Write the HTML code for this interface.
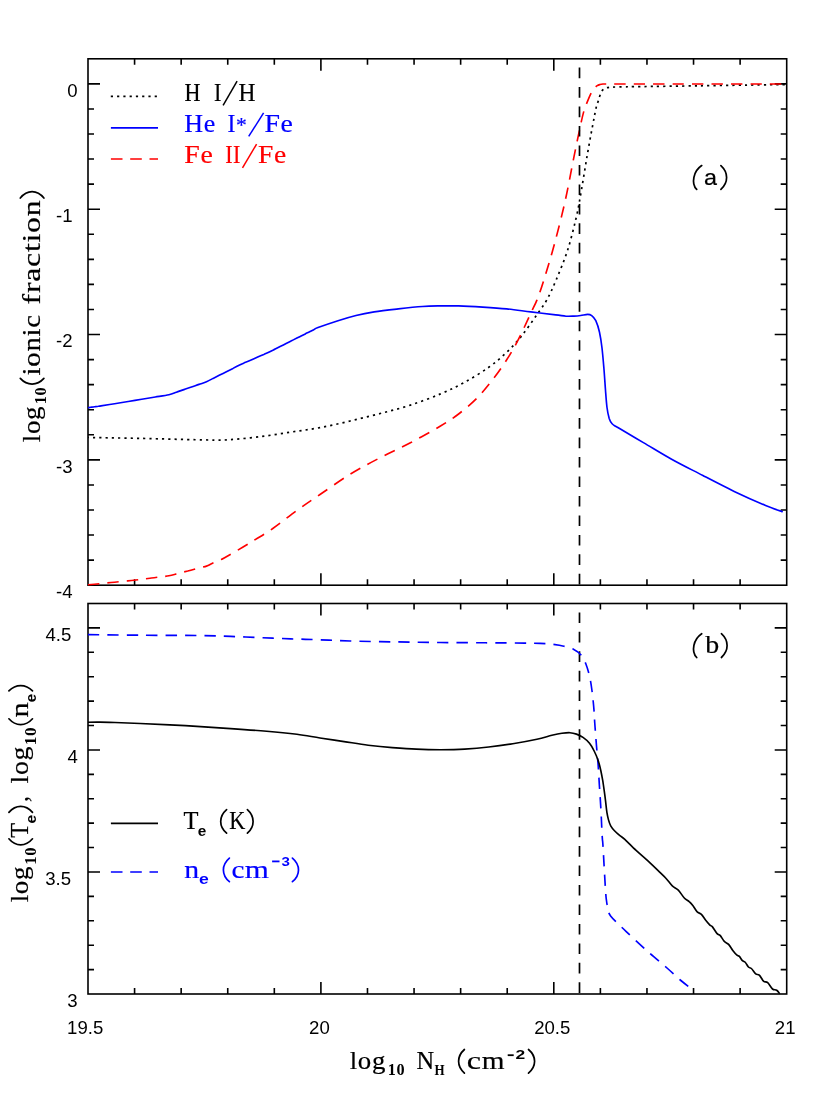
<!DOCTYPE html>
<html><head><meta charset="utf-8"><title>chart</title>
<style>html,body{margin:0;padding:0;background:#fff}svg{display:block;will-change:transform}.s{font-family:"Liberation Sans",sans-serif;font-size:18.6px;fill:#000}.r{font-family:"Liberation Serif",serif;font-size:25.5px}</style></head><body>
<svg width="830" height="1106" viewBox="0 0 830 1106">
<rect width="830" height="1106" fill="#fff"/>
<defs><clipPath id="c1"><rect x="87.0" y="57.8" width="700.7" height="528.4"/></clipPath>
<clipPath id="c2"><rect x="87.0" y="602.5" width="700.7" height="392.5"/></clipPath></defs>
<rect x="88.00" y="58.80" width="698.70" height="526.40" fill="none" stroke="#000" stroke-width="1.60"/>
<rect x="88.00" y="603.50" width="698.70" height="390.50" fill="none" stroke="#000" stroke-width="1.60"/>
<path d="M134.58 58.80v6.0M134.58 585.20v-6.0M134.58 603.50v6.0M134.58 994.00v-6.0M181.16 58.80v6.0M181.16 585.20v-6.0M181.16 603.50v6.0M181.16 994.00v-6.0M227.74 58.80v6.0M227.74 585.20v-6.0M227.74 603.50v6.0M227.74 994.00v-6.0M274.32 58.80v6.0M274.32 585.20v-6.0M274.32 603.50v6.0M274.32 994.00v-6.0M320.90 58.80v12.0M320.90 585.20v-12.0M320.90 603.50v12.0M320.90 994.00v-12.0M367.48 58.80v6.0M367.48 585.20v-6.0M367.48 603.50v6.0M367.48 994.00v-6.0M414.06 58.80v6.0M414.06 585.20v-6.0M414.06 603.50v6.0M414.06 994.00v-6.0M460.64 58.80v6.0M460.64 585.20v-6.0M460.64 603.50v6.0M460.64 994.00v-6.0M507.22 58.80v6.0M507.22 585.20v-6.0M507.22 603.50v6.0M507.22 994.00v-6.0M553.80 58.80v12.0M553.80 585.20v-12.0M553.80 603.50v12.0M553.80 994.00v-12.0M600.38 58.80v6.0M600.38 585.20v-6.0M600.38 603.50v6.0M600.38 994.00v-6.0M646.96 58.80v6.0M646.96 585.20v-6.0M646.96 603.50v6.0M646.96 994.00v-6.0M693.54 58.80v6.0M693.54 585.20v-6.0M693.54 603.50v6.0M693.54 994.00v-6.0M740.12 58.80v6.0M740.12 585.20v-6.0M740.12 603.50v6.0M740.12 994.00v-6.0M88.00 560.13h6.0M786.70 560.13h-6.0M88.00 535.07h6.0M786.70 535.07h-6.0M88.00 510.00h6.0M786.70 510.00h-6.0M88.00 484.93h6.0M786.70 484.93h-6.0M88.00 459.87h12.0M786.70 459.87h-12.0M88.00 434.80h6.0M786.70 434.80h-6.0M88.00 409.73h6.0M786.70 409.73h-6.0M88.00 384.67h6.0M786.70 384.67h-6.0M88.00 359.60h6.0M786.70 359.60h-6.0M88.00 334.53h12.0M786.70 334.53h-12.0M88.00 309.47h6.0M786.70 309.47h-6.0M88.00 284.40h6.0M786.70 284.40h-6.0M88.00 259.33h6.0M786.70 259.33h-6.0M88.00 234.27h6.0M786.70 234.27h-6.0M88.00 209.20h12.0M786.70 209.20h-12.0M88.00 184.13h6.0M786.70 184.13h-6.0M88.00 159.07h6.0M786.70 159.07h-6.0M88.00 134.00h6.0M786.70 134.00h-6.0M88.00 108.93h6.0M786.70 108.93h-6.0M88.00 83.87h12.0M786.70 83.87h-12.0M88.00 969.59h6.0M786.70 969.59h-6.0M88.00 945.19h6.0M786.70 945.19h-6.0M88.00 920.78h6.0M786.70 920.78h-6.0M88.00 896.38h6.0M786.70 896.38h-6.0M88.00 871.97h12.0M786.70 871.97h-12.0M88.00 847.56h6.0M786.70 847.56h-6.0M88.00 823.16h6.0M786.70 823.16h-6.0M88.00 798.75h6.0M786.70 798.75h-6.0M88.00 774.34h6.0M786.70 774.34h-6.0M88.00 749.94h12.0M786.70 749.94h-12.0M88.00 725.53h6.0M786.70 725.53h-6.0M88.00 701.12h6.0M786.70 701.12h-6.0M88.00 676.72h6.0M786.70 676.72h-6.0M88.00 652.31h6.0M786.70 652.31h-6.0M88.00 627.91h12.0M786.70 627.91h-12.0" stroke="#000" stroke-width="1.60" fill="none"/>
<g clip-path="url(#c1)" fill="none" stroke-width="1.65">
<path d="M88.0 437.5C96.7 437.6 119.8 438.0 140.0 438.4C160.2 438.8 194.4 439.8 209.5 440.0C224.6 440.2 222.1 440.2 230.6 439.6C239.1 439.0 250.7 437.9 260.7 436.6C270.7 435.4 280.9 433.6 290.8 432.1C300.7 430.6 310.1 429.5 320.0 427.6C329.9 425.8 340.1 423.4 350.1 421.0C360.1 418.6 370.1 416.1 380.2 413.5C390.2 410.9 400.3 408.4 410.4 405.1C420.4 401.8 431.5 397.7 440.5 393.9C449.5 390.1 456.6 386.7 464.6 382.3C472.6 377.9 481.7 372.3 488.7 367.3C495.7 362.3 501.2 357.6 506.7 352.3C512.2 347.0 516.8 342.0 521.8 335.7C526.8 329.4 532.8 320.5 536.9 314.6C541.0 308.7 543.5 306.0 546.7 300.1C550.0 294.2 553.0 287.5 556.4 279.3C559.8 271.1 564.0 261.2 567.3 251.1C570.6 241.0 573.6 228.6 576.0 218.5C578.4 208.4 579.6 200.4 581.4 190.3C583.2 180.2 585.0 168.2 586.8 157.7C588.6 147.2 590.7 135.7 592.3 127.3C593.9 118.9 595.2 111.7 596.2 107.4C597.2 103.1 597.5 103.3 598.1 101.5C598.7 99.7 599.0 98.2 599.6 96.5C600.2 94.8 601.0 92.7 601.7 91.4C602.4 90.1 603.1 89.5 604.0 88.9C604.9 88.3 605.4 88.0 606.8 87.7C608.2 87.4 609.5 87.2 612.5 87.1C615.5 86.9 620.4 86.9 625.0 86.8C629.6 86.7 627.5 86.8 640.0 86.6C652.5 86.4 680.0 86.1 700.0 85.8C720.0 85.5 745.5 85.1 760.0 84.9C774.5 84.7 782.2 84.6 786.7 84.5" stroke="#000" stroke-width="1.7" stroke-dasharray="2.2 4.07" stroke-dashoffset="1.2"/>
<path d="M88.0 584.8C89.9 584.6 95.7 584.0 99.5 583.7C103.3 583.3 107.2 582.9 111.0 582.5C114.8 582.2 118.7 581.8 122.5 581.4C126.3 581.0 130.6 580.7 134.0 580.3C137.4 579.9 139.8 579.5 142.7 579.2C145.6 578.8 148.5 578.4 151.4 578.0C154.4 577.7 157.3 577.3 160.2 576.9C163.1 576.5 165.9 576.4 168.9 575.8C171.9 575.2 175.2 574.2 178.3 573.4C181.4 572.6 184.6 571.8 187.7 571.0C190.8 570.1 194.0 569.3 197.1 568.5C200.2 567.7 204.2 566.9 206.5 566.1C208.8 565.3 209.5 564.7 211.0 564.0C212.5 563.3 214.0 562.6 215.6 561.9C217.1 561.2 218.6 560.5 220.1 559.8C221.6 559.1 219.8 560.4 224.6 557.7C229.4 555.0 240.7 548.5 248.7 543.6C256.7 538.7 264.8 534.0 272.8 528.5C280.8 523.0 289.0 516.1 296.9 510.4C304.8 504.7 311.1 500.5 320.0 494.5C328.9 488.5 340.1 480.4 350.1 474.3C360.1 468.2 370.1 462.9 380.2 457.7C390.2 452.4 400.3 448.1 410.4 442.8C420.4 437.5 432.5 430.8 440.5 426.0C448.5 421.2 452.6 418.6 458.6 414.0C464.6 409.4 471.1 404.0 476.6 398.5C482.1 393.0 486.7 387.3 491.7 380.9C496.7 374.4 502.2 366.8 506.7 359.8C511.2 352.8 514.8 346.5 518.8 338.7C522.8 330.9 527.8 319.5 530.8 313.1C533.8 306.7 534.8 305.4 536.9 300.1C539.0 294.8 540.5 290.8 543.4 281.5C546.3 272.2 550.7 257.9 554.3 244.5C557.9 231.1 561.9 215.6 565.1 201.1C568.4 186.6 571.4 169.3 573.8 157.7C576.1 146.1 577.6 139.2 579.2 131.6C580.8 124.0 582.2 117.1 583.6 112.1C585.0 107.1 586.1 104.8 587.5 101.4C588.9 98.0 590.6 94.1 591.8 91.9C593.0 89.7 593.6 89.0 594.5 88.0C595.4 87.0 596.4 86.2 597.3 85.6C598.2 85.0 599.0 84.8 600.0 84.5C601.0 84.2 601.3 84.1 603.0 84.0C604.7 84.0 600.5 84.0 610.0 84.0C619.5 84.0 630.5 84.0 660.0 84.0C689.5 84.0 765.6 84.0 786.7 84.0" stroke="#f00" stroke-dasharray="11.38 8.05"/>
<path d="M88.0 407.7C88.4 407.6 89.7 407.5 90.6 407.3C91.5 407.2 92.3 407.1 93.2 407.0C94.1 406.9 94.9 406.7 95.8 406.6C96.7 406.5 97.5 406.4 98.4 406.3C99.3 406.1 98.3 406.3 101.0 405.9C103.7 405.5 110.1 404.4 114.6 403.7C119.1 402.9 123.6 402.2 128.2 401.5C132.7 400.7 137.2 400.0 141.7 399.2C146.3 398.5 150.8 397.8 155.3 397.0C159.8 396.3 165.4 395.6 168.9 394.8C172.4 394.0 173.9 393.1 176.4 392.2C178.9 391.3 181.4 390.5 183.9 389.6C186.4 388.7 189.0 387.9 191.5 387.0C194.0 386.1 196.5 385.3 199.0 384.4C201.5 383.5 204.1 382.8 206.5 381.8C208.9 380.8 210.9 379.6 213.1 378.4C215.3 377.3 217.5 376.2 219.7 375.1C221.9 374.0 224.2 372.8 226.4 371.7C228.6 370.6 230.8 369.5 233.0 368.4C235.2 367.2 237.5 366.0 239.6 365.0C241.7 364.0 243.6 363.2 245.6 362.3C247.7 361.5 249.7 360.6 251.7 359.7C253.7 358.8 255.7 357.9 257.7 357.0C259.7 356.1 261.7 355.2 263.8 354.4C265.8 353.5 267.9 352.6 269.8 351.7C271.7 350.8 273.4 349.9 275.2 349.0C277.0 348.1 278.8 347.2 280.6 346.3C282.4 345.4 284.3 344.4 286.1 343.5C287.9 342.6 289.7 341.7 291.5 340.8C293.3 339.9 295.3 338.9 296.9 338.1C298.5 337.3 299.7 336.7 301.1 336.0C302.5 335.3 303.9 334.6 305.3 333.9C306.7 333.2 308.2 332.5 309.6 331.8C311.0 331.1 312.4 330.4 313.8 329.7C315.2 329.0 314.0 329.1 318.0 327.6C322.0 326.1 331.7 322.7 338.0 320.7C344.3 318.7 350.0 317.0 356.0 315.5C362.0 314.0 367.1 313.0 374.2 311.9C381.2 310.8 390.3 309.8 398.3 308.9C406.3 308.0 415.4 307.0 422.4 306.5C429.4 306.0 434.5 306.0 440.5 305.9C446.5 305.8 451.6 305.7 458.6 305.9C465.6 306.1 474.7 306.6 482.7 307.1C490.7 307.6 498.7 308.1 506.7 308.9C514.7 309.7 522.6 310.9 530.8 311.9C539.0 312.9 549.8 314.2 555.7 314.9C561.6 315.6 563.0 316.0 566.0 316.2C569.0 316.4 571.5 316.2 574.0 316.1C576.5 316.0 578.4 315.8 580.7 315.5C583.0 315.2 585.8 314.4 587.6 314.4C589.4 314.4 590.3 314.6 591.7 315.7C593.1 316.8 594.5 317.9 595.8 320.7C597.1 323.5 598.5 327.8 599.5 332.3C600.5 336.9 601.3 342.0 602.0 348.0C602.7 354.0 603.3 361.2 603.9 368.3C604.5 375.4 605.0 383.8 605.5 390.3C606.0 396.8 606.4 402.8 607.0 407.5C607.6 412.2 608.4 415.7 609.2 418.4C610.1 421.1 610.6 422.2 612.1 423.8C613.6 425.4 613.1 424.7 618.3 427.8C623.5 430.9 634.5 437.4 643.4 442.6C652.3 447.8 661.7 453.7 671.6 459.2C681.5 464.7 692.5 470.1 702.9 475.5C713.3 480.9 723.8 486.4 734.2 491.4C744.7 496.4 757.5 502.1 765.6 505.5C773.7 508.9 779.9 510.8 782.8 511.8" stroke="#00f"/>
</g>
<path d="M579.5 67.6V585.2" stroke="#000" stroke-width="1.7" stroke-dasharray="10.6 8.87" fill="none"/>
<path d="M579.5 612.4V994.0" stroke="#000" stroke-width="1.7" stroke-dasharray="10.6 8.87" fill="none"/>
<g clip-path="url(#c2)" fill="none" stroke-width="1.65">
<path d="M88.0 634.6C96.7 634.7 121.4 635.1 140.2 635.2C158.9 635.4 185.4 635.3 200.5 635.5C215.6 635.7 220.6 636.0 230.6 636.4C240.6 636.8 250.7 637.3 260.7 637.7C270.7 638.1 280.9 638.5 290.8 638.9C300.7 639.2 310.1 639.4 320.0 639.8C329.9 640.1 337.6 640.6 350.1 641.0C362.7 641.4 380.2 641.6 395.3 641.9C410.4 642.1 425.4 642.4 440.5 642.5C455.6 642.6 471.6 642.7 485.7 642.8C499.8 642.9 515.8 643.0 524.8 643.1C533.8 643.2 535.5 643.2 540.0 643.4C544.5 643.6 547.9 643.7 551.9 644.2C555.9 644.7 560.2 645.3 563.9 646.2C567.5 647.1 571.0 648.0 573.8 649.4C576.6 650.8 578.8 652.3 580.8 654.7C582.8 657.1 584.4 660.2 585.8 663.7C587.2 667.2 588.3 671.0 589.4 675.6C590.5 680.2 591.3 685.5 592.1 691.5C592.9 697.5 593.7 706.3 594.1 711.4C594.5 716.5 594.3 716.2 594.7 722.2C595.1 728.2 596.0 739.9 596.6 747.1C597.2 754.3 597.7 758.9 598.2 765.6C598.7 772.3 599.0 780.1 599.5 787.3C600.0 794.5 600.5 802.1 600.9 809.0C601.3 815.9 601.5 823.4 601.8 828.5C602.0 833.6 602.2 836.5 602.4 839.4C602.6 842.3 602.5 838.0 603.0 846.1C603.5 854.2 604.8 879.3 605.4 888.3C606.0 897.3 606.0 896.8 606.4 900.0C606.8 903.2 607.1 905.0 607.8 907.6C608.5 910.2 607.5 911.9 610.6 915.9C613.7 919.9 620.5 926.0 626.5 931.8C632.5 937.6 640.0 944.6 646.8 950.6C653.5 956.6 661.2 962.9 667.0 968.0C672.8 973.1 677.3 977.5 681.5 981.0C685.7 984.5 690.2 987.9 692.0 989.3" stroke="#00f" stroke-dasharray="11.3 8.1"/>
<path d="M88.0 722.2C90.0 722.2 95.5 722.1 100.0 722.1C104.5 722.1 108.3 722.3 115.0 722.5C121.7 722.7 128.5 723.0 140.2 723.5C151.9 724.0 170.3 724.8 185.4 725.6C200.5 726.5 217.1 727.7 230.6 728.6C244.1 729.5 255.6 730.3 266.7 731.3C277.8 732.2 288.0 733.2 296.9 734.3C305.8 735.4 312.1 736.8 320.0 738.0C327.9 739.2 336.1 740.4 344.1 741.6C352.1 742.8 360.2 744.2 368.2 745.2C376.2 746.2 384.3 747.0 392.3 747.6C400.3 748.2 408.4 748.8 416.4 749.1C424.4 749.5 432.5 749.7 440.5 749.7C448.5 749.7 456.6 749.6 464.6 749.1C472.6 748.6 480.7 747.9 488.7 747.0C496.7 746.1 504.8 745.0 512.8 743.7C520.8 742.4 530.4 740.6 536.9 739.2C543.4 737.8 547.7 736.3 551.9 735.3C556.1 734.3 558.9 733.7 561.9 733.3C564.9 732.9 567.5 732.6 569.9 732.7C572.3 732.8 574.3 733.3 576.5 734.1C578.7 734.9 580.8 735.9 583.0 737.4C585.2 738.9 587.6 740.9 589.5 743.3C591.4 745.6 592.9 748.5 594.4 751.5C595.9 754.5 597.3 758.0 598.4 761.2C599.5 764.5 600.2 767.7 600.9 771.0C601.6 774.3 602.2 777.5 602.8 780.8C603.3 784.1 603.7 787.2 604.2 790.6C604.7 794.0 605.2 797.8 605.6 801.4C606.0 805.0 606.4 809.2 606.9 812.3C607.4 815.4 607.9 817.6 608.5 819.9C609.1 822.1 609.7 824.0 610.7 825.8C611.7 827.6 613.0 829.1 614.5 830.7C616.0 832.3 618.2 834.2 619.9 835.6C621.6 837.0 622.1 836.9 624.8 839.4C627.5 841.9 632.2 846.8 636.1 850.4C640.0 854.0 644.2 857.5 648.2 861.2C652.2 864.9 657.2 869.8 660.2 872.7C663.2 875.6 664.3 876.5 666.3 878.7C668.3 880.9 670.3 884.0 672.3 885.9C674.3 887.8 676.3 888.1 678.3 890.1C680.3 892.1 682.5 896.1 684.3 898.0C686.1 899.9 687.8 900.3 689.2 901.6C690.7 902.9 691.7 904.1 693.0 905.8C694.3 907.5 695.8 910.5 697.2 911.9C698.6 913.3 700.0 912.9 701.4 914.3C702.8 915.7 704.3 918.5 705.7 920.3C707.1 922.1 708.8 924.0 709.9 925.1C711.0 926.2 711.1 925.2 712.3 926.6C713.5 928.0 715.8 932.1 717.1 933.6C718.4 935.1 718.9 934.1 720.1 935.4C721.3 936.7 722.9 939.9 724.3 941.4C725.7 942.9 727.2 942.9 728.6 944.4C730.0 945.9 731.4 948.6 732.8 950.4C734.2 952.2 735.9 954.2 737.0 955.2C738.1 956.2 738.5 955.5 739.4 956.4C740.3 957.3 741.4 959.7 742.4 960.7C743.4 961.7 744.4 961.5 745.4 962.5C746.4 963.5 747.4 966.0 748.4 967.0C749.4 968.0 750.2 967.4 751.4 968.5C752.6 969.6 754.4 972.8 755.7 973.9C757.0 975.0 758.0 973.9 759.3 975.1C760.6 976.3 762.1 979.8 763.5 981.1C764.9 982.4 766.2 981.4 767.7 982.7C769.2 984.0 771.0 987.8 772.5 989.0C774.0 990.2 775.5 989.4 776.7 990.2C777.9 991.0 779.3 993.2 779.8 993.8" stroke="#000"/>
</g>
<text class="s" x="67.17" y="96.6">0</text>
<text class="s" x="56.07" y="221.9">-1</text>
<text class="s" x="56.07" y="347.2">-2</text>
<text class="s" x="56.07" y="472.6">-3</text>
<text class="s" x="56.07" y="597.9">-4</text>
<text class="s" x="45.47" y="640.6">4.5</text>
<text class="s" x="67.47" y="762.6">4</text>
<text class="s" x="45.19" y="884.7">3.5</text>
<text class="s" x="67.19" y="1006.7">3</text>
<text class="s" x="85.2" y="1034" text-anchor="middle">19.5</text>
<text class="s" x="319.4" y="1034" text-anchor="middle">20</text>
<text class="s" x="552.3" y="1034" text-anchor="middle">20.5</text>
<text class="s" x="785.2" y="1034" text-anchor="middle">21</text>
<path d="M110.8 96.4H157.5" stroke="#000" stroke-width="1.6" stroke-dasharray="2.2 4.07"/>
<path d="M110.9 127.8H158" stroke="#00f" stroke-width="1.65"/>
<path d="M110.9 159H158" stroke="#f00" stroke-width="1.65" stroke-dasharray="11.6 7.7"/>
<text transform="translate(184.46 101.00) scale(0.8681 1.000)" fill="#000" stroke="#000" stroke-width="0.20" style="font-family:'Liberation Serif',serif;font-size:25.50px;font-kerning:none">H</text>
<text transform="translate(213.90 101.00) scale(0.8691 1.000)" fill="#000" stroke="#000" stroke-width="0.20" style="font-family:'Liberation Serif',serif;font-size:25.50px;font-kerning:none">I</text>
<path d="M223.1 105.4L237.1 81.1" stroke="#000" stroke-width="1.5" fill="none"/>
<text transform="translate(238.62 101.00) scale(0.9212 1.000)" fill="#000" stroke="#000" stroke-width="0.20" style="font-family:'Liberation Serif',serif;font-size:25.50px;font-kerning:none">H</text>
<text transform="translate(184.35 131.80) scale(1.0204 1)" fill="#00f" stroke="#00f" stroke-width="0.20" style="font-family:'Liberation Serif',serif;font-size:25.50px;font-kerning:none;letter-spacing:0.600px">He</text>
<text transform="translate(227.54 131.80) scale(0.9290 1.000)" fill="#00f" stroke="#00f" stroke-width="0.20" style="font-family:'Liberation Serif',serif;font-size:25.50px;font-kerning:none">I</text>
<text transform="translate(236.05 131.90) scale(0.9895 1.000)" fill="#00f" stroke="#00f" stroke-width="0.20" style="font-family:'Liberation Serif',serif;font-size:21.80px;font-kerning:none">*</text>
<path d="M248.7 136.4L263.6 112.9" stroke="#00f" stroke-width="1.5" fill="none"/>
<text transform="translate(264.50 131.80) scale(1.0906 1)" fill="#00f" stroke="#00f" stroke-width="0.20" style="font-family:'Liberation Serif',serif;font-size:25.50px;font-kerning:none;letter-spacing:0.600px">Fe</text>
<text transform="translate(184.30 163.20) scale(1.0906 1)" fill="#f00" stroke="#f00" stroke-width="0.20" style="font-family:'Liberation Serif',serif;font-size:25.50px;font-kerning:none;letter-spacing:0.600px">Fe</text>
<text transform="translate(225.20 163.20) scale(0.8690 1)" fill="#f00" stroke="#f00" stroke-width="0.20" style="font-family:'Liberation Serif',serif;font-size:25.50px;font-kerning:none;letter-spacing:0.600px">II</text>
<path d="M242.5 167.8L256.6 144.1" stroke="#f00" stroke-width="1.5" fill="none"/>
<text transform="translate(258.01 163.20) scale(1.0784 1)" fill="#f00" stroke="#f00" stroke-width="0.20" style="font-family:'Liberation Serif',serif;font-size:25.50px;font-kerning:none;letter-spacing:0.600px">Fe</text>
<path d="M701.70 165.60C693.40 171.10 690.90 183.40 696.70 189.40" fill="none" stroke="#000" stroke-width="1.75" stroke-linecap="round"/>
<text transform="translate(703.91 184.60) scale(1.0383 1.000)" fill="#000" stroke="#000" stroke-width="0.20" style="font-family:'Liberation Sans',serif;font-size:22.50px;font-kerning:none">a</text>
<path d="M720.90 165.60C728.50 172.54 728.50 182.46 720.90 189.40" fill="none" stroke="#000" stroke-width="1.7" stroke-linecap="round"/>
<path d="M701.70 633.70C693.40 639.20 690.90 651.50 696.70 657.50" fill="none" stroke="#000" stroke-width="1.75" stroke-linecap="round"/>
<text transform="translate(705.20 653.00) scale(1.0952 1.000)" fill="#000" stroke="#000" stroke-width="0.20" style="font-family:'Liberation Serif',serif;font-size:25.50px;font-kerning:none">b</text>
<path d="M721.40 633.70C729.00 640.64 729.00 650.56 721.40 657.50" fill="none" stroke="#000" stroke-width="1.7" stroke-linecap="round"/>
<path d="M110.9 823.3H158" stroke="#000" stroke-width="1.65"/>
<path d="M110.9 872H158" stroke="#00f" stroke-width="1.65" stroke-dasharray="11.6 7.7"/>
<text transform="translate(183.46 829.00) scale(0.9597 1.000)" fill="#000" stroke="#000" stroke-width="0.20" style="font-family:'Liberation Serif',serif;font-size:25.50px;font-kerning:none">T</text>
<text transform="translate(197.80 835.50) scale(1.0354 1.000)" fill="#000" style="font-family:'Liberation Sans',serif;font-weight:bold;font-size:14.80px;font-kerning:none">e</text>
<path d="M226.60 809.60C218.73 816.48 218.73 826.32 226.60 833.20" fill="none" stroke="#000" stroke-width="1.7" stroke-linecap="round"/>
<text transform="translate(229.16 829.00) scale(0.8726 1.000)" fill="#000" stroke="#000" stroke-width="0.20" style="font-family:'Liberation Serif',serif;font-size:25.50px;font-kerning:none">K</text>
<path d="M247.40 809.60C255.00 816.48 255.00 826.32 247.40 833.20" fill="none" stroke="#000" stroke-width="1.7" stroke-linecap="round"/>
<text transform="translate(184.31 877.50) scale(1.1716 1.000)" fill="#00f" stroke="#00f" stroke-width="0.20" style="font-family:'Liberation Serif',serif;font-size:25.50px;font-kerning:none">n</text>
<text transform="translate(199.11 884.40) scale(1.1893 1.000)" fill="#00f" style="font-family:'Liberation Sans',serif;font-weight:bold;font-size:14.80px;font-kerning:none">e</text>
<path d="M229.40 858.10C221.40 864.98 221.40 874.82 229.40 881.70" fill="none" stroke="#00f" stroke-width="1.7" stroke-linecap="round"/>
<text transform="translate(231.39 877.50) scale(1.1399 1.000)" fill="#00f" stroke="#00f" stroke-width="0.20" style="font-family:'Liberation Serif',serif;font-size:25.50px;font-kerning:none">c</text>
<text transform="translate(244.85 877.50) scale(1.2169 1.000)" fill="#00f" stroke="#00f" stroke-width="0.20" style="font-family:'Liberation Serif',serif;font-size:25.50px;font-kerning:none">m</text>
<path d="M272.1 861.4H279.5" stroke="#00f" stroke-width="1.8"/>
<text transform="translate(281.45 865.80) scale(1.1345 1.000)" fill="#00f" style="font-family:'Liberation Sans',serif;font-weight:bold;font-size:13.30px;font-kerning:none">3</text>
<path d="M292.40 858.10C300.53 864.98 300.53 874.82 292.40 881.70" fill="none" stroke="#00f" stroke-width="1.7" stroke-linecap="round"/>
<text transform="translate(349.76 1068.90) scale(1.0522 1)" fill="#000" stroke="#000" stroke-width="0.20" style="font-family:'Liberation Serif',serif;font-size:25.50px;font-kerning:none;letter-spacing:0.600px">log</text>
<text transform="translate(387.80 1075.30) scale(0.9666 1)" fill="#000" style="font-family:'Liberation Serif',serif;font-weight:bold;font-size:16.80px;font-kerning:none;letter-spacing:0.600px">10</text>
<text transform="translate(416.60 1068.90) scale(0.9593 1.000)" fill="#000" stroke="#000" stroke-width="0.20" style="font-family:'Liberation Serif',serif;font-size:25.50px;font-kerning:none">N</text>
<text transform="translate(434.38 1075.30) scale(0.8464 1.000)" fill="#000" style="font-family:'Liberation Serif',serif;font-weight:bold;font-size:15.40px;font-kerning:none">H</text>
<path d="M464.40 1049.50C456.67 1056.38 456.67 1066.22 464.40 1073.10" fill="none" stroke="#000" stroke-width="1.7" stroke-linecap="round"/>
<text transform="translate(466.68 1068.90) scale(1.2549 1.000)" fill="#000" stroke="#000" stroke-width="0.20" style="font-family:'Liberation Serif',serif;font-size:25.50px;font-kerning:none">c</text>
<text transform="translate(481.69 1068.90) scale(1.1481 1.000)" fill="#000" stroke="#000" stroke-width="0.20" style="font-family:'Liberation Serif',serif;font-size:25.50px;font-kerning:none">m</text>
<path d="M507.7 1055.2H513.7" stroke="#000" stroke-width="1.8"/>
<text transform="translate(515.50 1059.20) scale(1.2924 1.000)" fill="#000" style="font-family:'Liberation Sans',serif;font-weight:bold;font-size:13.50px;font-kerning:none">2</text>
<path d="M528.50 1049.50C536.63 1056.38 536.63 1066.22 528.50 1073.10" fill="none" stroke="#000" stroke-width="1.7" stroke-linecap="round"/>
<g transform="translate(39.7 441.7) rotate(-90)">
<text transform="translate(-0.54 0.00) scale(1.0583 1)" fill="#000" stroke="#000" stroke-width="0.20" style="font-family:'Liberation Serif',serif;font-size:25.50px;font-kerning:none;letter-spacing:0.600px">log</text>
<text transform="translate(37.40 6.60) scale(0.9666 1)" fill="#000" style="font-family:'Liberation Serif',serif;font-weight:bold;font-size:16.80px;font-kerning:none;letter-spacing:0.600px">10</text>
<path d="M63.30 -19.40C55.70 -12.52 55.70 -2.68 63.30 4.20" fill="none" stroke="#000" stroke-width="1.7" stroke-linecap="round"/>
<text transform="translate(66.29 0.00) scale(1.1312 1)" fill="#000" stroke="#000" stroke-width="0.20" style="font-family:'Liberation Serif',serif;font-size:25.50px;font-kerning:none;letter-spacing:0.600px">ionic</text>
<text transform="translate(137.32 0.00) scale(1.2452 1)" fill="#000" stroke="#000" stroke-width="0.20" style="font-family:'Liberation Serif',serif;font-size:25.50px;font-kerning:none;letter-spacing:0.600px">fraction</text>
<path d="M243.70 -19.40C252.23 -12.52 252.23 -2.68 243.70 4.20" fill="none" stroke="#000" stroke-width="1.7" stroke-linecap="round"/>
</g>
<g transform="translate(28.3 901.8) rotate(-90)">
<text transform="translate(-0.54 0.00) scale(1.0583 1)" fill="#000" stroke="#000" stroke-width="0.20" style="font-family:'Liberation Serif',serif;font-size:25.50px;font-kerning:none;letter-spacing:0.600px">log</text>
<text transform="translate(37.07 7.40) scale(0.9861 1)" fill="#000" style="font-family:'Liberation Serif',serif;font-weight:bold;font-size:16.80px;font-kerning:none;letter-spacing:0.600px">10</text>
<path d="M63.00 -19.40C54.87 -12.52 54.87 -2.68 63.00 4.20" fill="none" stroke="#000" stroke-width="1.7" stroke-linecap="round"/>
<text transform="translate(64.16 0.00) scale(0.9529 1.000)" fill="#000" stroke="#000" stroke-width="0.20" style="font-family:'Liberation Serif',serif;font-size:25.50px;font-kerning:none">T</text>
<text transform="translate(78.39 7.60) scale(1.0634 1.000)" fill="#000" style="font-family:'Liberation Sans',serif;font-weight:bold;font-size:14.80px;font-kerning:none">e</text>
<path d="M89.40 -19.40C97.53 -12.52 97.53 -2.68 89.40 4.20" fill="none" stroke="#000" stroke-width="1.7" stroke-linecap="round"/>
<text transform="translate(99.68 0.00) scale(0.9480 1.000)" fill="#000" stroke="#000" stroke-width="0.20" style="font-family:'Liberation Serif',serif;font-size:25.50px;font-kerning:none">,</text>
<text transform="translate(118.34 0.00) scale(1.0918 1)" fill="#000" stroke="#000" stroke-width="0.20" style="font-family:'Liberation Serif',serif;font-size:25.50px;font-kerning:none;letter-spacing:0.600px">log</text>
<text transform="translate(156.63 7.40) scale(1.0185 1)" fill="#000" style="font-family:'Liberation Serif',serif;font-weight:bold;font-size:16.80px;font-kerning:none;letter-spacing:0.600px">10</text>
<path d="M183.00 -19.40C175.27 -12.52 175.27 -2.68 183.00 4.20" fill="none" stroke="#000" stroke-width="1.7" stroke-linecap="round"/>
<text transform="translate(184.40 0.00) scale(1.1971 1.000)" fill="#000" stroke="#000" stroke-width="0.20" style="font-family:'Liberation Serif',serif;font-size:25.50px;font-kerning:none">n</text>
<text transform="translate(199.61 7.60) scale(1.0214 1.000)" fill="#000" style="font-family:'Liberation Sans',serif;font-weight:bold;font-size:14.80px;font-kerning:none">e</text>
<path d="M210.90 -19.40C217.97 -12.52 217.97 -2.68 210.90 4.20" fill="none" stroke="#000" stroke-width="1.7" stroke-linecap="round"/>
</g>
</svg></body></html>
